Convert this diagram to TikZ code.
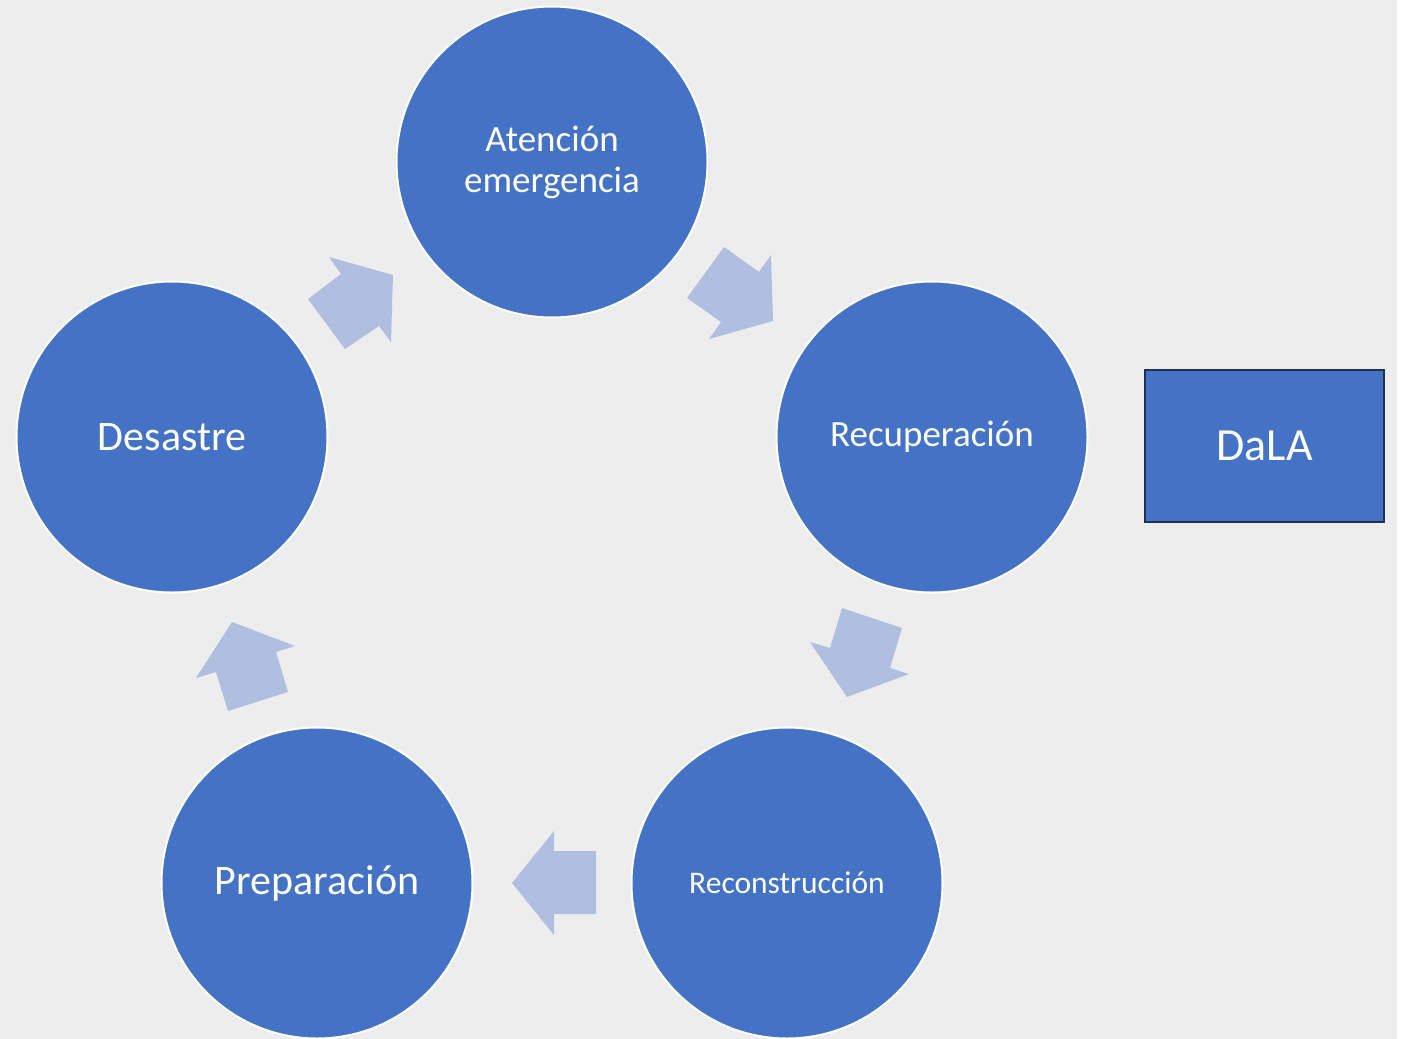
\documentclass[tikz,border=0pt]{standalone}
\usepackage{fontspec}
\setmainfont{Carlito}
\definecolor{bg}{HTML}{EDEDED}
\definecolor{circ}{HTML}{4472C4}
\definecolor{arr}{HTML}{B0BEE0}
\definecolor{navy}{HTML}{1F3050}
\begin{document}
\begin{tikzpicture}[x=1pt,y=-1pt,
  phase/.style={circle,fill=circ,draw=white,line width=2pt,minimum size=311pt,inner sep=0pt,text=white,align=center},
  blockarrow/.style={fill=arr,draw=none}]
\fill[white] (0,0) rectangle (1401,1039);
\fill[bg] (0,0) rectangle (1397,1039);
\useasboundingbox (0,0) rectangle (1401,1039);
\node[phase,font=\fontsize{37}{41}\selectfont] (aten) at (552,162) {Atención\\emergencia};
\node[phase,font=\fontsize{37}{44}\selectfont] (recu) at (932,437) {Recuperación};
\node[phase,font=\fontsize{31.5}{38}\selectfont] (reco) at (787,883) {Reconstrucción};
\node[phase,font=\fontsize{42}{48}\selectfont] (prep) at (317,883) {Preparación};
\node[phase,font=\fontsize{42}{48}\selectfont] (desa) at (172,437) {Desastre};
\node[draw=navy,fill=circ,line width=2.5pt,minimum width=239pt,minimum height=152pt,inner sep=0pt,text=white,font=\fontsize{46}{52}\selectfont] (dala) at (1264.5,446) {DaLA};
% block arrows
\fill[blockarrow] (687,298) -- (724,247) -- (759,272) -- (771,255) -- (773,321) -- (709,339) -- (721,322) -- cycle;
\fill[blockarrow] (308,299) -- (345,349) -- (379,326) -- (391,342) -- (393,275) -- (329,257) -- (341,274) -- cycle;
\fill[blockarrow] (842,608) -- (902,628) -- (890,668) -- (909,674) -- (847,697) -- (810,642) -- (830,648) -- cycle;
\fill[blockarrow] (232,622) -- (295,646) -- (276,652) -- (288,692) -- (228,711) -- (216,672) -- (196,678) -- cycle;
\fill[blockarrow] (512,883) -- (554,831) -- (554,851) -- (596,851) -- (596,914) -- (554,914) -- (554,935) -- cycle;
\end{tikzpicture}
\end{document}
